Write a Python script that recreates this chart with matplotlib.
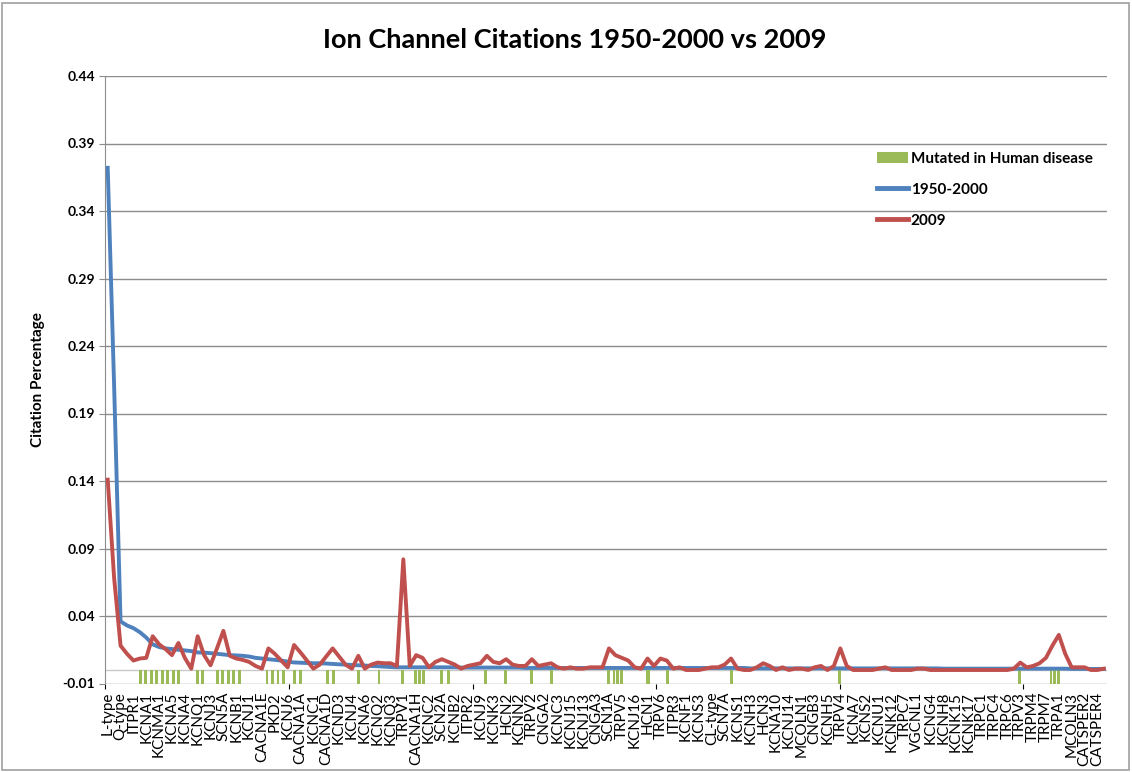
import matplotlib
matplotlib.use("Agg")
import matplotlib.pyplot as plt
from matplotlib.patches import Patch, Rectangle
from matplotlib.lines import Line2D
import numpy as np

plt.rcParams['font.family'] = ['Lato', 'DejaVu Sans']

# ---------------- data ----------------
tick_labels = [
    "L-type", "Q-type", "ITPR1", "KCNA1", "KCNMA1", "KCNA5", "KCNA4", "KCNQ1",
    "KCNJ3", "SCN5A", "KCNB1", "KCNJ1", "CACNA1E", "PKD2", "KCNJ6", "CACNA1A",
    "KCNC1", "CACNA1D", "KCND3", "KCNJ4", "KCNA6", "KCNQ2", "KCNQ3", "TRPV1",
    "CACNA1H", "KCNC2", "SCN2A", "KCNB2", "ITPR2", "KCNJ9", "KCNK3", "HCN2",
    "KCNN2", "TRPV2", "CNGA2", "KCNC3", "KCNJ15", "KCNJ13", "CNGA3", "SCN1A",
    "TRPV5", "KCNJ16", "HCN1", "TRPV6", "ITPR3", "KCNF1", "KCNS3", "CL-type",
    "SCN7A", "KCNS1", "KCNH3", "HCN3", "KCNA10", "KCNJ14", "MCOLN1", "CNGB3",
    "KCNH5", "TRPV4", "KCNA7", "KCNS2", "KCNU1", "KCNK12", "TRPC7", "VGCNL1",
    "KCNG4", "KCNH8", "KCNK15", "KCNK17", "TRPC1", "TRPC4", "TRPC6", "TRPV3",
    "TRPM4", "TRPM7", "TRPA1", "MCOLN3", "CATSPER2", "CATSPER4",
]

cit_1950_2000 = [
    0.372, 0.210, 0.036, 0.033, 0.031, 0.028, 0.024, 0.019, 0.017, 0.016,
    0.0155, 0.015, 0.0145, 0.014, 0.013, 0.0128, 0.0125, 0.012, 0.0115, 0.011,
    0.0108, 0.0105, 0.010, 0.009, 0.0085, 0.008, 0.0075, 0.007, 0.0062, 0.0056,
    0.0054, 0.0052, 0.005, 0.005, 0.0048, 0.0045, 0.0042, 0.004, 0.0037, 0.0035,
    0.0033, 0.003, 0.0028, 0.0025, 0.0022, 0.002, 0.002, 0.002, 0.002, 0.002,
    0.002, 0.002, 0.002, 0.002, 0.002, 0.0018, 0.0018, 0.0018, 0.0018, 0.0018,
    0.0018, 0.0018, 0.0018, 0.0018, 0.0018, 0.0015, 0.0015, 0.0015, 0.0015, 0.0015,
    0.0015, 0.0015, 0.0015, 0.0015, 0.0015, 0.0015, 0.0015, 0.0015, 0.0015, 0.0015,
    0.0015, 0.0015, 0.0015, 0.0015, 0.0015, 0.0015, 0.0015, 0.0015, 0.0015, 0.0015,
    0.0015, 0.0015, 0.0015, 0.0015, 0.0015, 0.0015, 0.0015, 0.0015, 0.0015, 0.0015,
    0.0012, 0.0012, 0.0012, 0.0012, 0.0012, 0.0012, 0.0012, 0.0012, 0.0012, 0.0012,
    0.0012, 0.0012, 0.0012, 0.0012, 0.0012, 0.0012, 0.0012, 0.0012, 0.0012, 0.0012,
    0.0012, 0.0012, 0.0012, 0.0012, 0.0012, 0.0012, 0.0012, 0.0012, 0.0012, 0.0012,
    0.001, 0.001, 0.001, 0.001, 0.001, 0.001, 0.001, 0.001, 0.001, 0.001,
    0.001, 0.001, 0.001, 0.001, 0.001, 0.001, 0.001, 0.001, 0.001, 0.001,
    0.0008, 0.0008, 0.0008, 0.0008, 0.0008, 0.0008,
]

cit_2009 = [
    0.141, 0.068, 0.018, 0.012, 0.007, 0.0085, 0.009, 0.025, 0.019, 0.0155,
    0.011, 0.020, 0.009, 0.001, 0.025, 0.011, 0.0035, 0.016, 0.029, 0.0105,
    0.0085, 0.0075, 0.006, 0.003, 0.001, 0.016, 0.012, 0.007, 0.002, 0.0185,
    0.013, 0.007, 0.001, 0.004, 0.010, 0.016, 0.010, 0.004, 0.001, 0.0105,
    0.001, 0.004, 0.0055, 0.005, 0.005, 0.003, 0.082, 0.003, 0.011, 0.009,
    0.002, 0.006, 0.008, 0.006, 0.004, 0.001, 0.003, 0.004, 0.005, 0.0105,
    0.006, 0.005, 0.008, 0.004, 0.003, 0.003, 0.008, 0.003, 0.004, 0.005,
    0.002, 0.001, 0.002, 0.001, 0.001, 0.002, 0.002, 0.002, 0.016, 0.011,
    0.009, 0.007, 0.002, 0.001, 0.0085, 0.003, 0.0085, 0.007, 0.001, 0.002,
    0.0, 0.0, 0.0, 0.001, 0.002, 0.002, 0.004, 0.0085, 0.001, 0.0,
    0.0, 0.002, 0.005, 0.003, 0.0, 0.002, 0.0, 0.001, 0.001, 0.0,
    0.002, 0.003, 0.0, 0.003, 0.016, 0.003, 0.0, 0.0, 0.0, 0.0,
    0.001, 0.002, 0.0, 0.0, 0.0, 0.0, 0.001, 0.001, 0.0, 0.0,
    0.0, 0.0, 0.0, 0.0, 0.0, 0.0, 0.0, 0.0, 0.0, 0.0,
    0.0, 0.001, 0.0055, 0.002, 0.003, 0.005, 0.009, 0.018, 0.026, 0.012,
    0.002, 0.002, 0.002, 0.0, 0.0, 0.001,
]

# "Mutated in Human disease" markers, on the finer secondary category axis
n_mutation_slots = 546
mutated_slots = [19, 22, 25, 28, 31, 34, 37, 40, 50, 53, 61, 64, 67, 70, 73,
                 88, 91, 94, 97, 103, 106, 121, 124, 138, 149, 162, 169, 171,
                 173, 183, 187, 207, 218, 232, 243, 274, 277, 279, 281, 295,
                 296, 306, 341, 400, 498, 515, 517, 519]
mutated_value = -0.01

yticks = [-0.01, 0.04, 0.09, 0.14, 0.19, 0.24, 0.29, 0.34, 0.39, 0.44]

# ---------------- plot ----------------
BLUE = "#4F81BD"
RED = "#C0504D"
GREEN = "#9BBB59"
GRID = "#8C8C8C"

W, H = 1132, 772
fig = plt.figure(figsize=(W / 100, H / 100), dpi=100)
left, right, top, bottom = 104.5, 1107, 76, 683.5
ax = fig.add_axes([left / W, 1 - bottom / H, (right - left) / W, (bottom - top) / H])

# bars (secondary categories)
ax.bar(np.arange(n_mutation_slots)[mutated_slots],
       [mutated_value] * len(mutated_slots), width=1.6, color=GREEN, zorder=2)
ax.set_xlim(-0.5, n_mutation_slots - 0.5)
ax.set_ylim(yticks[0], yticks[-1])
ax.set_yticks(yticks)
ax.set_yticklabels([f"{v:.2f}" for v in yticks], fontsize=10, fontweight='bold')
ax.yaxis.grid(True, color=GRID, lw=1.0)
ax.set_axisbelow(True)
ax.axhline(0, color="#C8C8C8", lw=1.0, zorder=1)
ax.tick_params(axis='x', which='both', bottom=False, labelbottom=False)
ax.tick_params(axis='y', length=4, color=GRID, pad=3)
for s in ['top', 'right', 'bottom']:
    ax.spines[s].set_visible(False)
ax.spines['left'].set_color(GRID)
ax.set_ylabel("Citation Percentage", fontsize=11, fontweight='bold', labelpad=12)

# lines on primary categories
ax2 = ax.twiny()
n = len(cit_2009)
x = np.arange(n)
ax2.plot(x, cit_1950_2000, color=BLUE, lw=2.8, solid_joinstyle='round', zorder=3)
ax2.plot(x, cit_2009, color=RED, lw=2.8, solid_joinstyle='round', zorder=4)
ax2.set_xlim(-0.5, n - 0.5)
ax2.xaxis.set_ticks_position('bottom')
ax2.xaxis.set_label_position('bottom')
ax2.set_xticks(x[::2][:len(tick_labels)])
ax2.set_xticklabels(tick_labels, rotation=90, fontsize=11)
ax2.tick_params(axis='x', length=0, pad=6)
for s in ax2.spines.values():
    s.set_visible(False)

fig.text(575 / W, 1 - 40 / H, "Ion Channel Citations 1950-2000 vs 2009",
         ha='center', va='center', fontsize=19.5, fontweight='bold')

handles = [Patch(facecolor=GREEN, edgecolor='none'),
           Line2D([], [], color=BLUE, lw=3.5),
           Line2D([], [], color=RED, lw=3.5)]
labels = ["Mutated in Human disease", "1950-2000", "2009"]
fig.legend(handles, labels, loc='upper left',
           bbox_to_anchor=(871 / W, 1 - 146 / H), frameon=False,
           prop={'weight': 'bold', 'size': 11}, handlelength=2.0,
           handleheight=0.75, handletextpad=0.2, labelspacing=1.1,
           borderaxespad=0)

fig.patches.append(Rectangle((2 / W, 2 / H), 1 - 5 / W, 1 - 5 / H,
                             transform=fig.transFigure, fill=False,
                             edgecolor="#A0A0A0", lw=1.2))

fig.savefig("out.png", dpi=100)
